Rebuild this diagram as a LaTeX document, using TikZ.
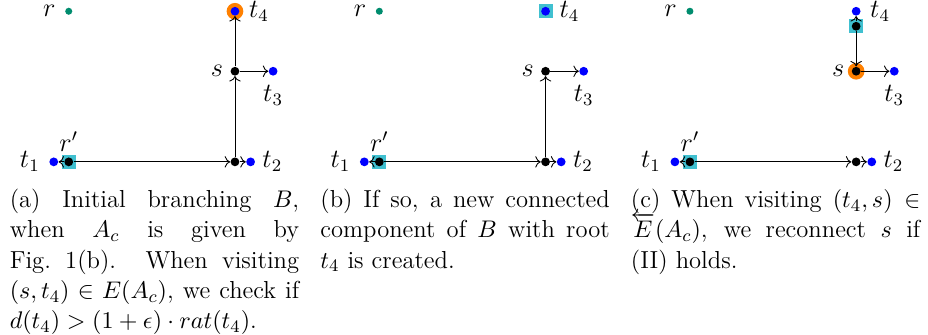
\documentclass[tikz,border=0pt,12pt]{standalone}
\usepackage{amsmath}
\usepackage{xcolor}
\usepackage{tikz}
\usetikzlibrary{arrows.meta, positioning}
\definecolor{rootgreen}{RGB}{0,140,110}
\definecolor{hlorange}{RGB}{255,128,0}
\definecolor{hlcyan}{RGB}{64,192,208}
\tikzset{
  terminal/.style={circle, fill=blue, inner sep=0pt, minimum size=4pt},
  steiner/.style={circle, fill=black, inner sep=0pt, minimum size=4pt},
  rootnode/.style={circle, fill=rootgreen, inner sep=0pt, minimum size=3.2pt},
  hlsquare/.style={rectangle, fill=hlcyan, inner sep=0pt, minimum size=6.4pt},
  hlcircle/.style={circle, fill=hlorange, inner sep=0pt, minimum size=7.6pt},
  branch/.style={->, thin},
  captext/.style={anchor=north west, inner sep=0pt,
    text width=4.63cm, align=justify, font=\fontsize{11.2}{13.8}\selectfont}
}

\begin{document}
\begin{tikzpicture}
  \useasboundingbox (0,0) rectangle (14.85,-5.36);

  % (a) initial branching
  \begin{scope}
    \node[hlsquare] (a-hrp) at (1.10,-2.59) {};
    \node[hlcircle] (a-ht4) at (3.76,-0.18) {};
    \node[rootnode, label=left:$r$] (a-r) at (1.10,-0.18) {};
    \node[terminal, label=right:$t_4$] (a-t4) at (3.76,-0.18) {};
    \node[steiner, label={[label distance=-1pt]left:$s$}] (a-s) at (3.76,-1.14) {};
    \node[terminal, label=below:$t_3$] (a-t3) at (4.37,-1.14) {};
    \node[steiner, label={[label distance=-1.5pt]above:$r'$}] (a-rp) at (1.10,-2.59) {};
    \node[terminal, label=left:$t_1$] (a-t1) at (0.86,-2.59) {};
    \node[steiner] (a-v) at (3.76,-2.59) {};
    \node[terminal, label={[label distance=-1pt]right:$t_2$}] (a-t2) at (4.01,-2.59) {};

    \draw[branch] (a-rp) -- (a-t1);
    \draw[branch] (a-rp) -- (a-v);
    \draw[branch] (a-v) -- (a-t2);
    \draw[branch] (a-v) -- (a-s);
    \draw[branch] (a-s) -- (a-t3);
    \draw[branch] (a-s) -- (a-t4);

    \node[captext] (a-cap) at (0.15,-3.02) {(a) Initial branching $B$, when $A_c$ is given by Fig.~1(b). When visiting $(s,t_4)\in E(A_c)$, we check if $d(t_4) > (1+\epsilon)\cdot rat(t_4)$.};
  \end{scope}

  % (b) new component rooted at t4
  \begin{scope}[xshift=4.97cm]
    \node[hlsquare] (b-hrp) at (1.10,-2.59) {};
    \node[hlsquare] (b-ht4) at (3.76,-0.18) {};
    \node[rootnode, label=left:$r$] (b-r) at (1.10,-0.18) {};
    \node[terminal, label=right:$t_4$] (b-t4) at (3.76,-0.18) {};
    \node[steiner, label={[label distance=-1pt]left:$s$}] (b-s) at (3.76,-1.14) {};
    \node[terminal, label=below:$t_3$] (b-t3) at (4.37,-1.14) {};
    \node[steiner, label={[label distance=-1.5pt]above:$r'$}] (b-rp) at (1.10,-2.59) {};
    \node[terminal, label=left:$t_1$] (b-t1) at (0.86,-2.59) {};
    \node[steiner] (b-v) at (3.76,-2.59) {};
    \node[terminal, label={[label distance=-1pt]right:$t_2$}] (b-t2) at (4.01,-2.59) {};

    \draw[branch] (b-rp) -- (b-t1);
    \draw[branch] (b-rp) -- (b-v);
    \draw[branch] (b-v) -- (b-t2);
    \draw[branch] (b-v) -- (b-s);
    \draw[branch] (b-s) -- (b-t3);

    \node[captext] (b-cap) at (0.15,-3.02) {(b) If so, a new connected component of $B$ with root $t_4$ is created.};
  \end{scope}

  % (c) reconnecting s
  \begin{scope}[xshift=9.94cm]
    \node[hlsquare] (c-hrp) at (1.10,-2.59) {};
    \node[hlsquare] (c-hw) at (3.76,-0.42) {};
    \node[hlcircle] (c-hs) at (3.76,-1.14) {};
    \node[rootnode, label=left:$r$] (c-r) at (1.10,-0.18) {};
    \node[terminal, label=right:$t_4$] (c-t4) at (3.76,-0.18) {};
    \node[steiner] (c-w) at (3.76,-0.42) {};
    \node[steiner, label={[label distance=-1pt]left:$s$}] (c-s) at (3.76,-1.14) {};
    \node[terminal, label=below:$t_3$] (c-t3) at (4.37,-1.14) {};
    \node[steiner, label={[label distance=-1.5pt]above:$r'$}] (c-rp) at (1.10,-2.59) {};
    \node[terminal, label=left:$t_1$] (c-t1) at (0.86,-2.59) {};
    \node[steiner] (c-v) at (3.76,-2.59) {};
    \node[terminal, label={[label distance=-1pt]right:$t_2$}] (c-t2) at (4.01,-2.59) {};

    \draw[branch] (c-rp) -- (c-t1);
    \draw[branch] (c-rp) -- (c-v);
    \draw[branch] (c-v) -- (c-t2);
    \draw[branch] (c-w) -- (c-t4);
    \draw[branch] (c-w) -- (c-s);
    \draw[branch] (c-s) -- (c-t3);

    \node[captext] (c-cap) at (0.15,-3.02) {(c) When visiting $(t_4,s)\in \smash{\overleftarrow{E}}(A_c)$, we reconnect $s$ if (II) holds.};
  \end{scope}
\end{tikzpicture}
\end{document}
